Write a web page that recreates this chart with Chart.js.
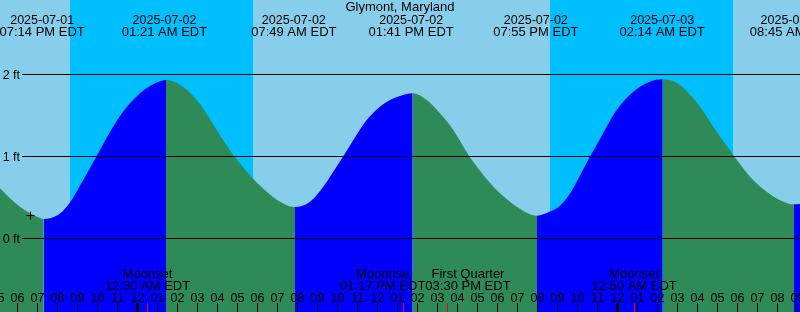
<!DOCTYPE html>
<html>
<head>
<meta charset="utf-8">
<script src="https://cdn.jsdelivr.net/npm/chart.js@4.4.0/dist/chart.umd.min.js"></script>
<style>
  html, body { margin: 0; padding: 0; background: #87ceeb; }
  #wrap { width: 800px; height: 312px; }
</style>
</head>
<body>
<div id="wrap"><canvas id="tideChart" width="800" height="312"></canvas></div>
<script>
// x values are hours counted from 2025-07-02 00:00 EDT
const stationName = 'Glymont, Maryland';

const tideHours = [
  -6.875, -6.375, -5.875, -5.375, -4.875, -4.69, -4.375, -3.875, -3.375, -2.875,
  -2.375, -1.875, -1.375, -0.875, -0.375, 0.125, 0.625, 1.125, 1.425, 2.275,
  3.125, 3.96, 4.79, 5.76, 6.46, 7.125, 7.875, 8.625, 9.29, 9.79,
  10.29, 10.79, 11.46, 12.125, 12.625, 13.125, 13.76, 14.46, 15.125, 15.79,
  16.59, 17.29, 18.125, 18.96, 19.975, 20.625, 21.125, 21.625, 22.125, 22.625,
  23.125, 23.96, 24.79, 25.625, 26.26, 27.125, 28.125, 28.96, 29.79, 30.625,
  31.46, 32.29, 32.825, 33.125
];
const tideFeet = [
  0.612, 0.490, 0.388, 0.307, 0.250, 0.238, 0.247, 0.305, 0.440, 0.645,
  0.860, 1.080, 1.300, 1.495, 1.649, 1.771, 1.860, 1.917, 1.933, 1.851,
  1.640, 1.323, 1.018, 0.734, 0.571, 0.449, 0.384, 0.449, 0.632, 0.815,
  1.002, 1.201, 1.445, 1.607, 1.689, 1.738, 1.771, 1.689, 1.527, 1.323,
  1.002, 0.774, 0.551, 0.388, 0.278, 0.330, 0.400, 0.550, 0.770, 1.000,
  1.215, 1.567, 1.790, 1.912, 1.941, 1.872, 1.607, 1.302, 1.018, 0.754,
  0.571, 0.449, 0.417, 0.422
];

// high / low tide labels along the top
const eventHours = [-4.767, 1.35, 7.817, 13.683, 19.917, 26.233, 32.75];
const eventDates = ['2025-07-01', '2025-07-02', '2025-07-02', '2025-07-02', '2025-07-02', '2025-07-03', '2025-07-03'];
const eventTimes = ['07:14 PM EDT', '01:21 AM EDT', '07:49 AM EDT', '01:41 PM EDT', '07:55 PM EDT', '02:14 AM EDT', '08:45 AM EDT'];

// sunset -> sunrise
const nightStart = [-3.375, 20.625];
const nightEnd = [5.76, 29.8];

const moonHours = [0.5, 13.283, 15.5, 24.833];
const moonNames = ['Moonset', 'Moonrise', 'First Quarter', 'Moonset'];
const moonTimes = ['12:30 AM EDT', '01:17 PM EDT', '03:30 PM EDT', '12:50 AM EDT'];

const levelTicks = [0, 1, 2];
const levelLabels = ['0 ft', '1 ft', '2 ft'];

const markHours = [-5.35];
const markFeet = [0.28];

const DAY = '#87ceeb';
const NIGHT = '#00bfff';
const RISING = '#0000ff';
const FALLING = '#2e8b57';
const FONT = '13px "Liberation Sans", Arial, sans-serif';
const NUM_FONT = '12.5px "Liberation Sans", Arial, sans-serif';

document.addEventListener('DOMContentLoaded', () => {
  const ctx = document.getElementById('tideChart').getContext('2d');

  const backdrop = {
    id: 'backdrop',
    beforeDatasetsDraw(chart) {
      const { ctx, chartArea: a, scales: { x } } = chart;
      ctx.save();
      ctx.fillStyle = DAY;
      ctx.fillRect(a.left, a.top, a.width, a.height);
      ctx.fillStyle = NIGHT;
      nightStart.forEach((s, i) => {
        const x0 = Math.round(x.getPixelForValue(s));
        const x1 = Math.round(x.getPixelForValue(nightEnd[i]));
        ctx.fillRect(x0, a.top, x1 - x0, a.height);
      });
      ctx.restore();
    }
  };

  const overlay = {
    id: 'overlay',
    afterDatasetsDraw(chart) {
      const { ctx, chartArea: a, scales: { x, y } } = chart;
      ctx.save();
      ctx.fillStyle = '#000';
      ctx.strokeStyle = '#000';
      ctx.lineWidth = 1;
      ctx.textBaseline = 'alphabetic';

      // level lines + labels
      ctx.font = NUM_FONT;
      ctx.textAlign = 'right';
      levelTicks.forEach((v, i) => {
        const py = Math.floor(y.getPixelForValue(v)) + 0.5;
        ctx.beginPath();
        ctx.moveTo(22, py);
        ctx.lineTo(a.right, py);
        ctx.stroke();
        ctx.fillText(levelLabels[i], 20, py + 4.5);
      });

      // title and tide events
      ctx.textAlign = 'center';
      ctx.font = FONT;
      ctx.fillText(stationName, (a.left + a.right) / 2, 11);
      eventHours.forEach((h, i) => {
        const px = x.getPixelForValue(h);
        ctx.font = NUM_FONT;
        ctx.fillText(eventDates[i], px, 23.5);
        ctx.font = FONT;
        ctx.fillText(eventTimes[i], px, 36);
      });

      // hour ticks
      ctx.font = NUM_FONT;
      for (let h = Math.floor(x.min); h <= Math.ceil(x.max); h++) {
        const px = Math.floor(x.getPixelForValue(h)) + 0.5;
        const hr = ((h % 12) + 12) % 12 || 12;
        ctx.fillText(String(hr).padStart(2, '0'), px, 302);
        const midnight = ((h % 24) + 24) % 24 === 0;
        if (midnight) ctx.fillRect(px - 1.5, 303, 3, 9);
        else ctx.fillRect(px - 0.5, 303, 1, 9);
      }

      // moon events: labels pushed apart when they would overlap
      ctx.font = FONT;
      const boxes = moonHours.map((h, i) => {
        const px = x.getPixelForValue(h);
        const w = Math.max(ctx.measureText(moonNames[i]).width, ctx.measureText(moonTimes[i]).width);
        return { px, cx: px, w, i };
      });
      for (let k = 1; k < boxes.length; k++) {
        const l = boxes[k - 1], r = boxes[k];
        const overlap = (l.cx + l.w / 2) - (r.cx - r.w / 2);
        if (overlap > 0) {
          l.cx -= overlap / 2;
          r.cx += overlap / 2;
        }
      }
      boxes.forEach(b => {
        ctx.fillStyle = '#000';
        ctx.fillText(moonNames[b.i], b.cx, 278);
        ctx.fillText(moonTimes[b.i], b.cx, 290);
        ctx.fillStyle = '#ff0000';
        ctx.fillRect(Math.floor(b.px), 303, 1, 9);
      });
      ctx.restore();
    }
  };

  new Chart(ctx, {
    type: 'line',
    data: {
      datasets: [{
        label: 'Mark',
        data: markHours.map((h, i) => ({ x: h, y: markFeet[i] })),
        showLine: false,
        pointStyle: 'cross',
        pointRadius: 4,
        borderColor: '#000',
        borderWidth: 1,
        order: 1
      }, {
        label: 'Tide',
        data: tideHours.map((h, i) => ({ x: h, y: tideFeet[i] })),
        fill: 'start',
        backgroundColor: RISING,
        borderColor: 'transparent',
        borderWidth: 0,
        pointRadius: 0,
        cubicInterpolationMode: 'monotone',
        segment: {
          backgroundColor: c => (c.p1.parsed.y > c.p0.parsed.y ? RISING : FALLING)
        },
        order: 2
      }]
    },
    options: {
      responsive: false,
      animation: false,
      events: [],
      layout: { padding: 0, autoPadding: false },
      plugins: { legend: { display: false }, tooltip: { enabled: false } },
      scales: {
        x: { type: 'linear', min: -6.875, max: 33.125, display: false },
        y: { min: -0.896, max: 2.909, display: false }
      }
    },
    plugins: [backdrop, overlay]
  });
});
</script>
</body>
</html>
